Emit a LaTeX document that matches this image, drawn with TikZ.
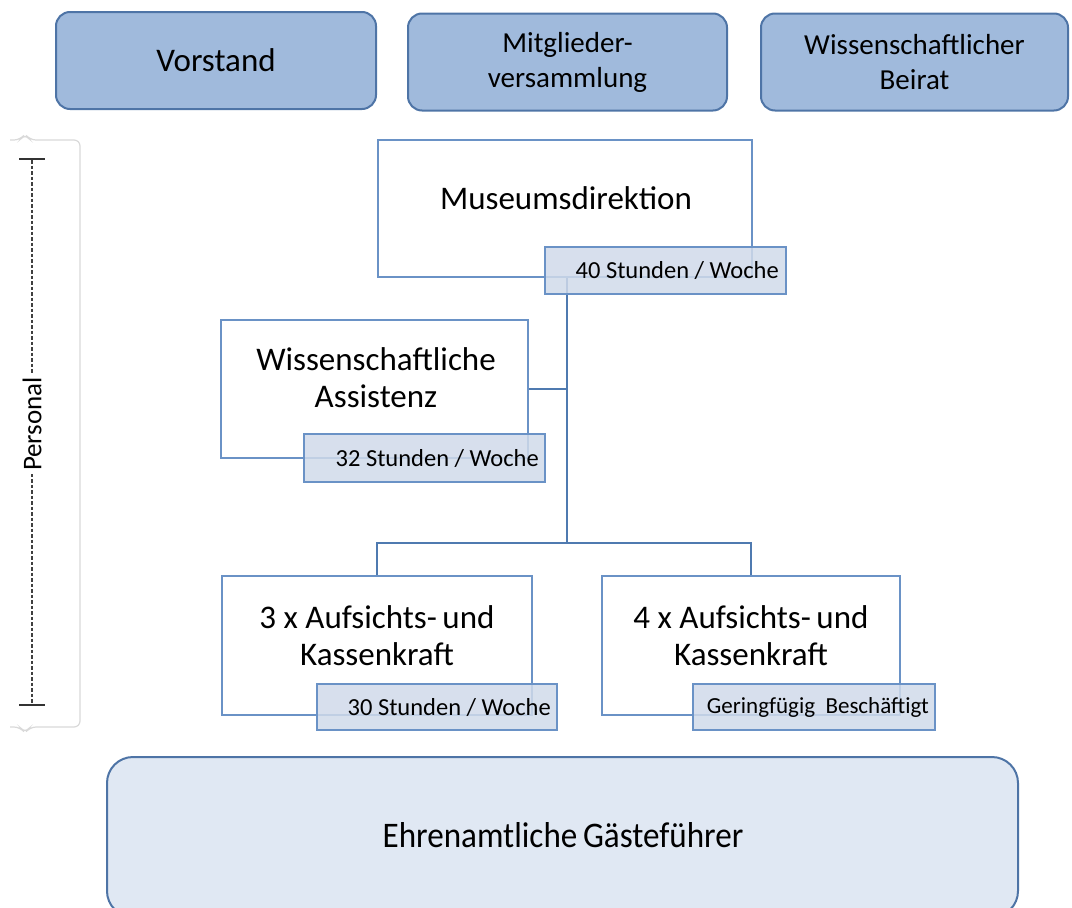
\documentclass[tikz,border=0pt]{standalone}
\usepackage{fontspec}
\setmainfont{Carlito}
\definecolor{topfill}{HTML}{A0BADC}
\definecolor{topdraw}{HTML}{4E74A6}
\definecolor{lblfill}{HTML}{D0DAEA}
\definecolor{boxdraw}{HTML}{6A92C6}
\definecolor{conncol}{HTML}{4F7AB0}
\definecolor{botfill}{HTML}{E0E8F3}
\definecolor{bracecol}{HTML}{D9D9D9}
\tikzset{
  topbox/.style={draw=topdraw, fill=topfill, line width=2pt, rounded corners=14pt, align=center, font=\fontsize{29}{35}\selectfont, inner sep=0pt},
  whitebox/.style={draw=boxdraw, fill=white, line width=2.8pt, inner sep=0pt},
  boxtext/.style={align=center, font=\fontsize{33}{37}\selectfont, inner sep=0pt},
  lblbox/.style={draw=boxdraw, fill=lblfill, fill opacity=0.85, text opacity=1, line width=2.8pt, inner sep=0pt},
  lbltext/.style={anchor=east, font=\fontsize{24.5}{28}\selectfont, inner sep=0pt},
  conn/.style={draw=conncol, line width=2.6pt},
}
\begin{document}
\begin{tikzpicture}[x=1pt,y=-1pt]
\useasboundingbox (0,0) rectangle (1072,908);
% top boxes
\node[topbox, minimum width=320pt, minimum height=97pt] (vor) at (216,60.5) {\fontsize{33}{36}\selectfont Vorstand};
\node[topbox, minimum width=319pt, minimum height=97pt] (mit) at (567.5,62) {Mitglieder-\\versammlung};
\node[topbox, minimum width=307pt, minimum height=97pt] (wb) at (914.5,62) {Wissenschaftlicher\\Beirat};
% white boxes
\node[whitebox, minimum width=374pt, minimum height=137pt] (dir) at (565,208.5) {};
\node[boxtext] (dirt) at (566,198) {Museumsdirektion};
\node[whitebox, minimum width=307pt, minimum height=138pt] (ass) at (374.5,389) {};
\node[boxtext] (asst) at (376,378) {Wissenschaftliche\\Assistenz};
\node[whitebox, minimum width=310pt, minimum height=139pt] (k3) at (377,645.5) {};
\node[boxtext] (k3t) at (377,636) {3 x Aufsichts-\,und\\Kassenkraft};
\node[whitebox, minimum width=298pt, minimum height=139pt] (k4) at (751,645.5) {};
\node[boxtext] (k4t) at (751,636) {4 x Aufsichts-\,und\\Kassenkraft};
% connectors
\coordinate (trunk) at (567,543);
\draw[conn] (dir.south -| trunk) -- (trunk);
\draw[conn] (ass.east) -- (ass.east -| trunk);
\draw[conn] (k3.north) |- (trunk) -| (k4.north);
% labels
\node[lblbox, minimum width=241pt, minimum height=47pt] (l40) at (665.5,270.5) {};
\node[lbltext] (t40) at (779,271) {40 Stunden\ /\ Woche};
\node[lblbox, minimum width=241pt, minimum height=48pt] (l32) at (424.5,458) {};
\node[lbltext] (t32) at (539,458.5) {32 Stunden\ /\ Woche};
\node[lblbox, minimum width=240pt, minimum height=46pt] (l30) at (437,707) {};
\node[lbltext] (t30) at (551,707.5) {30 Stunden\ /\ Woche};
\node[lblbox, minimum width=242pt, minimum height=46pt] (lg) at (814,707) {};
\node[lbltext, font=\fontsize{23}{26}\selectfont] (tg) at (929,707.5) {Geringfügig\ \ Beschäftigt};
% bottom box
\node[draw=topdraw, fill=botfill, line width=2pt, rounded corners=26pt, minimum width=911pt, minimum height=160pt, inner sep=0pt] (ehr) at (562.5,837) {};
\node[font=\fontsize{36}{40}\selectfont, xscale=0.92] (ehrt) at (563,835) {Ehrenamtliche\hspace{-2pt} Gästeführer};
% Personal brace
\draw[bracecol, line width=1.2pt, rounded corners=6pt] (10,140) -- (20,140) -- (25,134) -- (30,140) -- (80,140) -- (80,727) -- (30,727) -- (25,733) -- (20,727) -- (10,727);
\draw[black!75, line width=1.1pt, dash pattern=on 3.5pt off 2pt] (32,160) -- (32,705);
\draw[black!80, line width=2pt] (19,159) -- (45,159);
\draw[black!80, line width=2pt] (19,705) -- (45,705);
\node[rotate=90, fill=white, inner xsep=3pt, inner ysep=1pt, font=\fontsize{27}{30}\selectfont] (pers) at (32,424) {Personal};
\end{tikzpicture}
\end{document}
